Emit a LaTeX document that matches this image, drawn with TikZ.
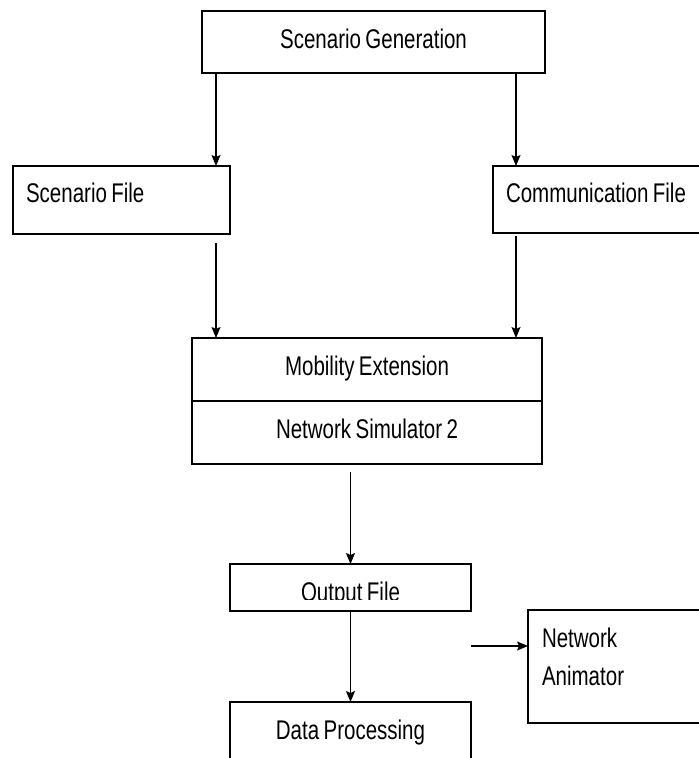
\documentclass[tikz,border=0pt]{standalone}
\usepackage{fontspec}
\newfontfamily\boxfont{Liberation Sans}[FakeStretch=0.76,WordSpace=0.76]
\usetikzlibrary{positioning}
\usetikzlibrary{arrows.meta}

\begin{document}
\begin{tikzpicture}[x=1pt,y=-1pt,>={Stealth[length=11pt,width=9pt,inset=2pt]},
	line width=1.3pt,
	box/.style={draw,rectangle,line width=1.7pt,inner sep=0pt,outer sep=0pt,
		text height=20pt,text depth=8pt,font=\boxfont\fontsize{27}{38}\selectfont},
	file box/.style={box,anchor=north west,align=flush left,inner xsep=13pt,inner ysep=16pt}]
	
	\clip (0,0) rectangle (699,758);
	
	\node[box,anchor=north west,minimum width=343pt,minimum height=62pt] (sg) at (202,11) {Scenario Generation};
	\node[file box,text width=191pt,text depth=16pt] (sf) at (13,166) {Scenario File};
	\node[file box,text width=204pt,text depth=15pt] (cf) at (493,166) {Communication File};
	\node[box,anchor=north west,minimum width=350pt,minimum height=63pt] (me) at (192,338) {Mobility Extension};
	\node[box,minimum width=350pt,minimum height=63pt] (ns) [below=0pt of me] {Network Simulator 2};
	\node[box,anchor=north west,minimum width=241pt,minimum height=47pt] (of) at (230,564) {};
	\node[box,minimum width=241pt,minimum height=63pt] (dp) [below=91pt of of] {Data Processing};
	\node[file box,inner xsep=14pt,inner ysep=17pt,text width=172pt,text depth=59pt] (na) at (528,610) {Network\\Animator};
	
	% label of the output box is cut at its foot
	\begin{scope}
		\clip (of.north west) rectangle ([yshift=-12pt]of.east);
		\node[box,draw=none,anchor=base] (oftext) at ([yshift=-13.5pt]of.center) {Output File};
	\end{scope}
	
	\coordinate (lx) at ([xshift=14pt]sg.south west);
	\coordinate (rx) at ([xshift=-29pt]sg.south east);
	\coordinate (nafrom) at ([yshift=-58.5pt]of.east);
	
	\path[->]
	(lx) edge (lx |- sf.north)
	(rx) edge (rx |- cf.north)
	([yshift=-9pt]sf.south -| lx) edge (lx |- me.north)
	([yshift=-3pt]cf.south -| rx) edge (rx |- me.north)
	([yshift=-8pt]ns.south -| of.north) edge (of.north)
	(of) edge (dp)
	(nafrom) edge (nafrom -| na.west);
\end{tikzpicture}
\end{document}
